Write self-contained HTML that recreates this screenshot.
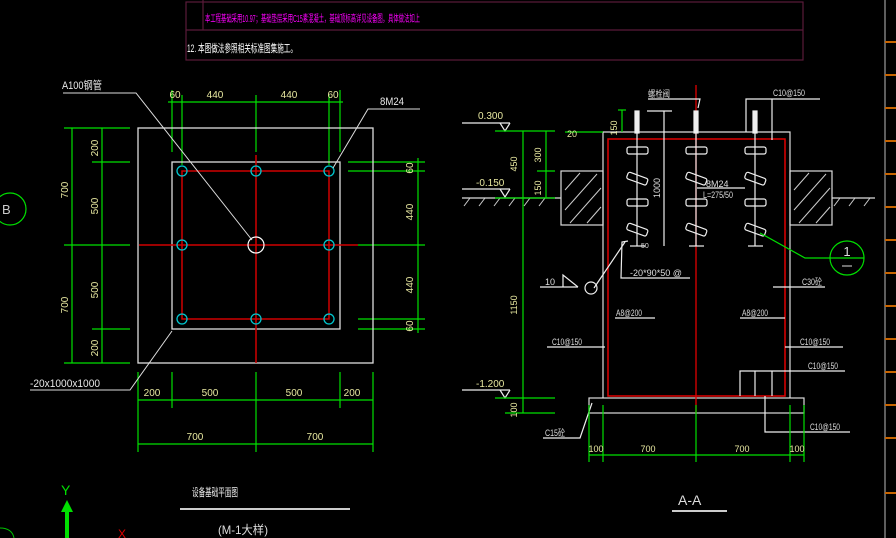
<!DOCTYPE html>
<html><head><meta charset="utf-8"><style>
html,body{margin:0;padding:0;background:#000;}
svg{display:block}
text{font-family:"Liberation Sans","Noto Sans CJK SC",sans-serif;}
</style></head><body>
<svg width="896" height="538" viewBox="0 0 896 538" xmlns="http://www.w3.org/2000/svg">
<rect width="896" height="538" fill="#000"/>
<!-- top table -->
<g stroke="#5a1a3a" stroke-width="1.2" fill="none">
<rect x="186" y="2" width="617" height="58"/>
<line x1="186" y1="30" x2="803" y2="30"/>
<line x1="203" y1="0" x2="203" y2="30"/>
</g>
<text x="205" y="22" fill="#ff00ff" font-size="10" textLength="215" lengthAdjust="spacingAndGlyphs">本工程基础采用10.97；基础垫层采用C15素混凝土，基础顶标高详见设备图，具体做法如上</text>
<text x="187" y="52" fill="#fff" font-size="11" textLength="110" lengthAdjust="spacingAndGlyphs">12. 本图做法参照相关标准图集施工。</text>
<line x1="885" y1="0" x2="885" y2="538" stroke="#bbb" stroke-width="1"/>
<g stroke="#c86400" stroke-width="2"><line x1="885" y1="42" x2="896" y2="42"/><line x1="885" y1="75" x2="896" y2="75"/><line x1="885" y1="108" x2="896" y2="108"/><line x1="885" y1="141" x2="896" y2="141"/><line x1="885" y1="174" x2="896" y2="174"/><line x1="885" y1="207" x2="896" y2="207"/><line x1="885" y1="240" x2="896" y2="240"/><line x1="885" y1="273" x2="896" y2="273"/><line x1="885" y1="306" x2="896" y2="306"/><line x1="885" y1="339" x2="896" y2="339"/><line x1="885" y1="372" x2="896" y2="372"/><line x1="885" y1="405" x2="896" y2="405"/><line x1="885" y1="438" x2="896" y2="438"/><line x1="885" y1="493" x2="896" y2="493"/></g>

<!-- PLAN -->
<g stroke="#00e000" stroke-width="1.2" fill="none">
<line x1="168" y1="102" x2="343" y2="102"/>
<line x1="172" y1="90" x2="172" y2="152"/><line x1="182" y1="95" x2="182" y2="165"/><line x1="256" y1="95" x2="256" y2="152"/><line x1="329" y1="95" x2="329" y2="165"/><line x1="340" y1="90" x2="340" y2="152"/>
<line x1="72" y1="128" x2="72" y2="363"/><line x1="102" y1="128" x2="102" y2="363"/>
<line x1="64" y1="128" x2="130" y2="128"/><line x1="92" y1="162" x2="130" y2="162"/><line x1="64" y1="245" x2="130" y2="245"/><line x1="92" y1="329" x2="130" y2="329"/><line x1="64" y1="363" x2="130" y2="363"/>
<line x1="418" y1="158" x2="418" y2="333"/>
<line x1="348" y1="162" x2="425" y2="162"/><line x1="348" y1="171" x2="425" y2="171"/><line x1="358" y1="245" x2="425" y2="245"/><line x1="358" y1="319" x2="425" y2="319"/><line x1="358" y1="329" x2="425" y2="329"/>
<line x1="138" y1="400" x2="373" y2="400"/><line x1="138" y1="444" x2="373" y2="444"/>
<line x1="138" y1="372" x2="138" y2="452"/><line x1="172" y1="372" x2="172" y2="408"/><line x1="256" y1="372" x2="256" y2="452"/><line x1="340" y1="372" x2="340" y2="408"/><line x1="373" y1="372" x2="373" y2="452"/>
<circle cx="10" cy="209" r="16"/>
</g>
<g stroke="#ddd" stroke-width="1.3" fill="none">
<rect x="138" y="128" width="235" height="235"/>
<rect x="172" y="162" width="168" height="167"/>
</g>
<g stroke="#d00000" stroke-width="1.5" fill="none">
<rect x="182" y="171" width="147" height="148"/>
<line x1="139" y1="245" x2="358" y2="245"/><line x1="256" y1="155" x2="256" y2="363"/>
</g>
<g stroke="#00c8d0" stroke-width="1.3" fill="none">
<circle cx="182" cy="171" r="5"/><circle cx="256" cy="171" r="5"/><circle cx="329" cy="171" r="5"/>
<circle cx="182" cy="245" r="5"/><circle cx="329" cy="245" r="5"/>
<circle cx="182" cy="319" r="5"/><circle cx="256" cy="319" r="5"/><circle cx="329" cy="319" r="5"/>
</g>
<circle cx="256" cy="245" r="8" stroke="#fff" stroke-width="1.2" fill="none"/>
<g stroke="#ddd" stroke-width="1" fill="none">
<polyline points="63,93 136,93 252,240"/>
<polyline points="333,168 368,109 420,109"/>
<polyline points="30,390 130,390 172,331"/>
</g>
<g fill="#e8e8e8" font-size="11">
<text x="62" y="89" textLength="40" lengthAdjust="spacingAndGlyphs">A100钢管</text>
<text x="380" y="105" textLength="24" lengthAdjust="spacingAndGlyphs">8M24</text>
<text x="30" y="387" textLength="70" lengthAdjust="spacingAndGlyphs">-20x1000x1000</text>
<text x="2" y="214" fill="#ccc" font-size="13">B</text>
</g>
<g fill="#e8e8a0" font-size="10" text-anchor="middle">
<text x="175" y="98">60</text><text x="215" y="98">440</text><text x="289" y="98">440</text><text x="333" y="98">60</text>
<text x="152" y="396">200</text><text x="210" y="396">500</text><text x="294" y="396">500</text><text x="352" y="396">200</text>
<text x="195" y="440">700</text><text x="315" y="440">700</text>
<text transform="translate(68,190) rotate(-90)">700</text><text transform="translate(68,305) rotate(-90)">700</text>
<text transform="translate(98,148) rotate(-90)">200</text><text transform="translate(98,206) rotate(-90)">500</text><text transform="translate(98,290) rotate(-90)">500</text><text transform="translate(98,348) rotate(-90)">200</text>
<text transform="translate(413,168) rotate(-90)">60</text><text transform="translate(413,212) rotate(-90)">440</text><text transform="translate(413,285) rotate(-90)">440</text><text transform="translate(413,326) rotate(-90)">60</text>
</g>

<!-- SECTION -->
<g stroke="#ddd" stroke-width="1.2" fill="none">
<polyline points="603,398 603,132 790,132 790,398"/>
<rect x="589" y="398" width="215" height="15"/>
<rect x="561" y="171" width="42" height="54"/><rect x="790" y="171" width="42" height="54"/>
<line x1="462" y1="198" x2="561" y2="198"/><line x1="832" y1="198" x2="875" y2="198"/>
</g>
<g stroke="#ccc" stroke-width="1">
<line x1="565" y1="190" x2="580" y2="173"/><line x1="565" y1="210" x2="597" y2="174"/><line x1="570" y1="223" x2="601" y2="188"/><line x1="587" y1="223" x2="601" y2="207"/>
<line x1="794" y1="190" x2="809" y2="173"/><line x1="794" y1="210" x2="826" y2="174"/><line x1="799" y1="223" x2="830" y2="188"/><line x1="816" y1="223" x2="830" y2="207"/>
<line x1="470" y1="198" x2="464" y2="206"/><line x1="485" y1="198" x2="479" y2="206"/><line x1="500" y1="198" x2="494" y2="206"/><line x1="515" y1="198" x2="509" y2="206"/><line x1="530" y1="198" x2="524" y2="206"/><line x1="545" y1="198" x2="539" y2="206"/>
<line x1="840" y1="198" x2="834" y2="206"/><line x1="855" y1="198" x2="849" y2="206"/><line x1="870" y1="198" x2="864" y2="206"/>
</g>
<rect x="608" y="139" width="177" height="257" stroke="#e00000" stroke-width="1.5" fill="none"/>
<line x1="696" y1="85" x2="696" y2="413" stroke="#e00000" stroke-width="1.3"/>
<g stroke="#eee" stroke-width="1.2" fill="none">
<line x1="637" y1="111" x2="637" y2="246"/><line x1="696" y1="111" x2="696" y2="246"/><line x1="755" y1="111" x2="755" y2="246"/>
<rect x="635" y="111" width="4" height="22" fill="#eee"/><rect x="694" y="111" width="4" height="22" fill="#eee"/><rect x="753" y="111" width="4" height="22" fill="#eee"/>
<line x1="630" y1="246" x2="645" y2="246"/><line x1="689" y1="246" x2="704" y2="246"/><line x1="748" y1="246" x2="763" y2="246"/>
<rect x="627" y="147" width="21" height="7" rx="2"/><rect x="686" y="147" width="21" height="7" rx="2"/><rect x="745" y="147" width="21" height="7" rx="2"/>
<rect x="627" y="199" width="21" height="7" rx="2"/><rect x="686" y="199" width="21" height="7" rx="2"/><rect x="745" y="199" width="21" height="7" rx="2"/>
<rect x="627" y="175" width="21" height="7" rx="2" transform="rotate(20 637 178)"/><rect x="686" y="175" width="21" height="7" rx="2" transform="rotate(20 696 178)"/><rect x="745" y="175" width="21" height="7" rx="2" transform="rotate(20 755 178)"/>
<rect x="627" y="226" width="21" height="7" rx="2" transform="rotate(20 637 229)"/><rect x="686" y="226" width="21" height="7" rx="2" transform="rotate(20 696 229)"/><rect x="745" y="226" width="21" height="7" rx="2" transform="rotate(20 755 229)"/>
<line x1="664" y1="111" x2="664" y2="246"/><line x1="647" y1="111" x2="672" y2="111"/>
<polyline points="648,99 700,99 698,108"/>
<polyline points="746,132 746,99 820,99"/><line x1="772" y1="99" x2="772" y2="140"/>
<line x1="697" y1="188" x2="745" y2="188"/>
<polyline points="628,241 622,242 621,278 690,278"/>
<polyline points="625,242 594,288"/><circle cx="591" cy="288" r="6"/>
<polyline points="540,287 568,287 578,287"/><polyline points="563,287 563,275 578,287"/>
<line x1="615" y1="318" x2="655" y2="318"/><line x1="740" y1="318" x2="785" y2="318"/>
<line x1="547" y1="347" x2="605" y2="347"/><line x1="785" y1="347" x2="843" y2="347"/>
<polyline points="740,396 740,371 845,371"/><line x1="755" y1="371" x2="755" y2="396"/><line x1="772" y1="371" x2="772" y2="396"/>
<polyline points="765,396 765,432 850,432"/>
<polyline points="543,438 580,438 592,403"/>
<line x1="773" y1="287" x2="825" y2="287"/>
<polyline points="462,123 510,123"/><polyline points="500,123 505,131 510,123"/>
<polyline points="462,189 510,189"/><polyline points="500,189 505,197 510,189"/>
<polyline points="462,390 510,390"/><polyline points="500,390 505,398 510,390"/>
</g>
<g stroke="#00e000" stroke-width="1.2" fill="none">
<line x1="523" y1="131" x2="523" y2="413"/><line x1="546" y1="131" x2="546" y2="198"/>
<line x1="495" y1="131" x2="555" y2="131"/><line x1="537" y1="171" x2="555" y2="171"/><line x1="495" y1="198" x2="555" y2="198"/>
<line x1="495" y1="398" x2="555" y2="398"/><line x1="505" y1="413" x2="555" y2="413"/>
<line x1="565" y1="132" x2="603" y2="132"/><line x1="622" y1="110" x2="622" y2="132"/><line x1="618" y1="110" x2="626" y2="110"/>
<line x1="589" y1="455" x2="804" y2="455"/>
<line x1="589" y1="405" x2="589" y2="462"/><line x1="603" y1="405" x2="603" y2="462"/><line x1="696" y1="405" x2="696" y2="462"/><line x1="790" y1="405" x2="790" y2="462"/><line x1="804" y1="405" x2="804" y2="462"/>
<polyline points="760,233 805,258 864,258"/>
<circle cx="847" cy="258" r="17"/>
</g>
<g fill="#e8e8a0" font-size="9" text-anchor="middle">
<text transform="translate(517,164) rotate(-90)">450</text><text transform="translate(541,155) rotate(-90)">300</text><text transform="translate(541,188) rotate(-90)">150</text>
<text transform="translate(517,305) rotate(-90)">1150</text><text transform="translate(517,410) rotate(-90)">100</text>
<text transform="translate(617,128) rotate(-90)">150</text><text x="572" y="137">20</text>
<text x="596" y="452">100</text><text x="648" y="452">700</text><text x="742" y="452">700</text><text x="797" y="452">100</text>
</g>
<g fill="#e8e8a0" font-size="10">
<text x="478" y="119">0.300</text><text x="476" y="186">-0.150</text><text x="476" y="387">-1.200</text>
</g>
<g fill="#ddd" font-size="9">
<text x="648" y="97" textLength="22" lengthAdjust="spacingAndGlyphs">螺栓阀</text>
<text x="773" y="96" textLength="32" lengthAdjust="spacingAndGlyphs">C10@150</text>
<text x="706" y="187">8M24</text><text x="703" y="198" textLength="30" lengthAdjust="spacingAndGlyphs">L=275/50</text>
<text transform="translate(660,188) rotate(-90)" text-anchor="middle">1000</text>
<text x="630" y="276" textLength="52" lengthAdjust="spacingAndGlyphs">-20*90*50 @</text>
<text x="545" y="285">10</text>
<text x="802" y="285" textLength="20" lengthAdjust="spacingAndGlyphs">C30砼</text>
<text x="616" y="316" textLength="26" lengthAdjust="spacingAndGlyphs">A8@200</text>
<text x="742" y="316" textLength="26" lengthAdjust="spacingAndGlyphs">A8@200</text>
<text x="552" y="345" textLength="30" lengthAdjust="spacingAndGlyphs">C10@150</text>
<text x="800" y="345" textLength="30" lengthAdjust="spacingAndGlyphs">C10@150</text>
<text x="808" y="369" textLength="30" lengthAdjust="spacingAndGlyphs">C10@150</text>
<text x="810" y="430" textLength="30" lengthAdjust="spacingAndGlyphs">C10@150</text>
<text x="545" y="436" textLength="20" lengthAdjust="spacingAndGlyphs">C15砼</text>
<text x="641" y="248" font-size="7">50</text>
</g>
<text x="847" y="256" fill="#ddd" font-size="13" text-anchor="middle">1</text>
<line x1="842" y1="266" x2="852" y2="266" stroke="#ddd"/>

<!-- titles -->
<text x="192" y="496" fill="#eee" font-size="11" textLength="46" lengthAdjust="spacingAndGlyphs">设备基础平面图</text>
<line x1="180" y1="509" x2="350" y2="509" stroke="#ccc" stroke-width="2"/>
<text x="218" y="534" fill="#ddd" font-size="12" textLength="50" lengthAdjust="spacingAndGlyphs">(M-1大样)</text>
<text x="678" y="505" fill="#ddd" font-size="14">A-A</text>
<line x1="672" y1="511" x2="727" y2="511" stroke="#ccc" stroke-width="2"/>
<!-- UCS -->
<text x="61" y="495" fill="#00e000" font-size="14">Y</text>
<line x1="67" y1="510" x2="67" y2="538" stroke="#00e000" stroke-width="4"/>
<polygon points="61,512 67,500 73,512" fill="#00e000"/>
<text x="118" y="538" fill="#e00000" font-size="12">X</text>
<path d="M0,528 Q12,528 14,538" stroke="#00c000" fill="none"/>
</svg>
</body></html>
